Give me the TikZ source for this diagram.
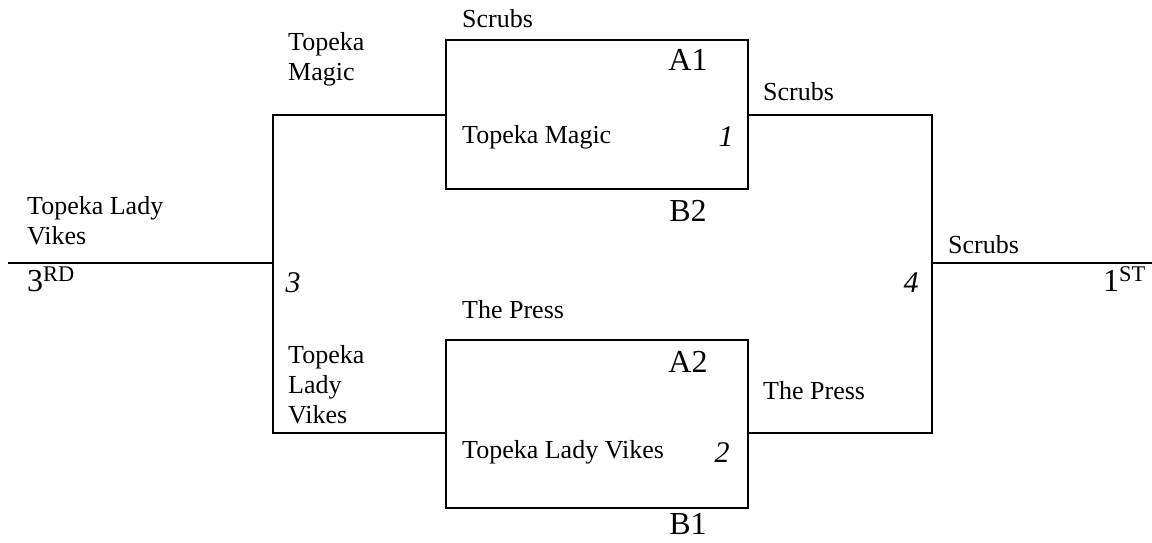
\documentclass[tikz,border=0pt]{standalone}
\usepackage{fontspec}
\setmainfont{Liberation Serif}
\begin{document}
\begin{tikzpicture}[x=1pt,y=-1pt,
  line/.style={line width=1.8pt},
  box/.style={draw,line width=1.8pt,inner sep=0pt},
  lbl/.style={anchor=base west,inner sep=0pt,font=\fontsize{26}{30}\selectfont,align=left},
  big/.style={anchor=base,inner sep=0pt,font=\fontsize{32}{36}\selectfont},
  num/.style={anchor=base,inner sep=0pt,font=\fontsize{30}{34}\selectfont\itshape}]
\useasboundingbox (0,0) rectangle (1152,542);
% boxes
\node[box,minimum width=302pt,minimum height=149pt] (box1) at (597,114.5) {};
\node[box,minimum width=302pt,minimum height=168pt] (box2) at (597,424) {};
% bracket coordinates
\coordinate (lin) at (8,263);
\coordinate (j3) at (273,263);
\coordinate (j3t) at (273,115);
\coordinate (j3b) at (273,433);
\coordinate (b1l) at (446,115);
\coordinate (b2l) at (446,433);
\coordinate (b1r) at (748,115);
\coordinate (b2r) at (748,433);
\coordinate (j4t) at (932,115);
\coordinate (j4b) at (932,433);
\coordinate (j4) at (932,263);
\coordinate (lout) at (1152,263);
% connectors
\draw[line] (lin) -- (j3);
\draw[line] (b1l) -- (j3t) -- (j3b) -- (b2l);
\draw[line] (b1r) -- (j4t) -- (j4b) -- (b2r);
\draw[line] (j4) -- (lout);
% labels
\node[lbl] (t1) at (462,27) {Scrubs};
\node[lbl,anchor=north west] (t2) at (288,32) {Topeka\\Magic};
\node[big] (a1) at (688,70) {A1};
\node[lbl] (t3) at (462,143) {Topeka Magic};
\node[num] (n1) at (726,146) {1};
\node[lbl] (t4) at (763,100) {Scrubs};
\node[big] (b2) at (688,221) {B2};
\node[lbl,anchor=north west] (t5) at (27,196) {Topeka Lady\\Vikes};
\node[big,anchor=base west] (r3) at (27,291) {3\textsuperscript{RD}};
\node[num] (n3) at (293,292) {3};
\node[lbl] (t6) at (948,253) {Scrubs};
\node[num] (n4) at (911,292) {4};
\node[big,anchor=base east] (r1) at (1146,291) {1\textsuperscript{ST}};
\node[lbl] (t7) at (462,318) {The Press};
\node[lbl,anchor=north west] (t8) at (288,345) {Topeka\\Lady\\Vikes};
\node[big] (a2) at (688,372) {A2};
\node[lbl] (t9) at (763,399) {The Press};
\node[lbl] (t10) at (462,458) {Topeka Lady Vikes};
\node[num] (n2) at (722,462) {2};
\node[big] (b1) at (688,534) {B1};
\end{tikzpicture}
\end{document}
